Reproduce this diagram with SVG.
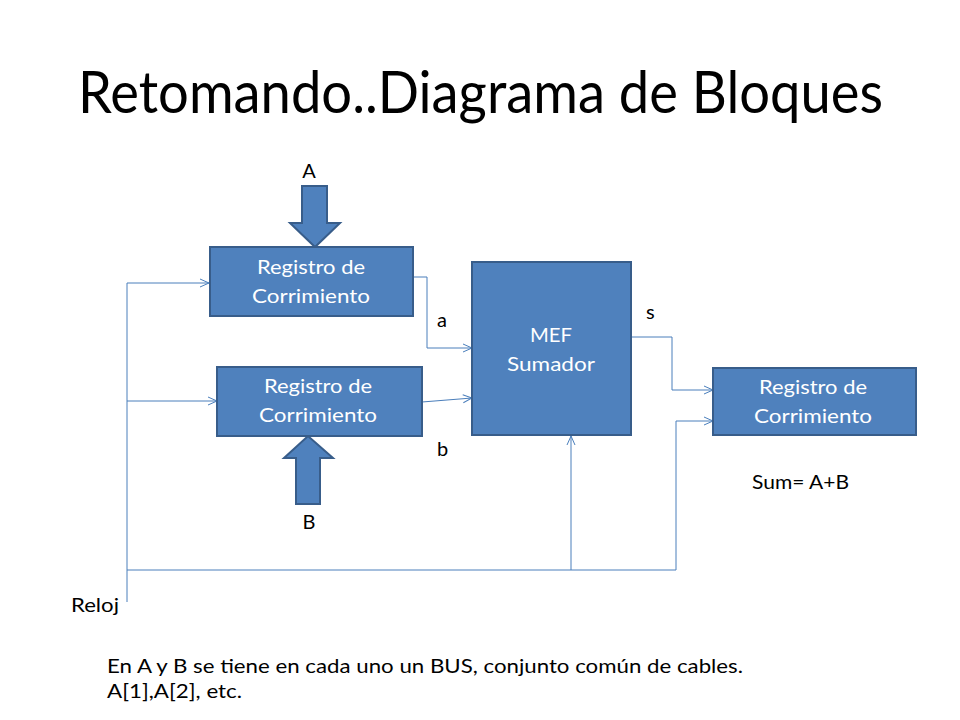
<svg xmlns="http://www.w3.org/2000/svg" width="960" height="720" viewBox="0 0 960 720">
<defs>
<style>
.box{fill:#4F81BD;stroke:#385D8A;stroke-width:2}
.bt{font-family:Lato,"Open Sans","Liberation Sans",sans-serif;font-size:20px;fill:#FFFFFF;text-anchor:middle}
.lb{font-family:Lato,"Open Sans","Liberation Sans",sans-serif;font-size:20px;fill:#000000}
.ln{fill:none;stroke:#4A7EBB;stroke-width:1}
.title{font-family:Lato,"Open Sans","Liberation Sans",sans-serif;font-size:58px;fill:#000000}
</style>
<marker id="arr" viewBox="0 0 10 10" refX="10" refY="5" markerWidth="10" markerHeight="10" markerUnits="userSpaceOnUse" orient="auto">
<path d="M1,1 L10,5 L1,9" fill="none" stroke="#4A7EBB" stroke-width="1"/>
</marker>
</defs>
<rect width="960" height="720" fill="#FFFFFF"/>
<text class="title" x="78" y="113" textLength="805" lengthAdjust="spacingAndGlyphs">Retomando..Diagrama de Bloques</text>

<g id="connectors">
<polyline class="ln" points="127,602 127,283 209,283" marker-end="url(#arr)"/>
<line class="ln" x1="127" y1="401" x2="217" y2="401" marker-end="url(#arr)"/>
<polyline class="ln" points="127,570 676,570 676,421 713,421" marker-end="url(#arr)"/>
<line class="ln" x1="571" y1="570" x2="571" y2="436" marker-end="url(#arr)"/>
<polyline class="ln" points="413,277 427,277 427,348 472,348" marker-end="url(#arr)"/>
<line class="ln" x1="422" y1="402" x2="472" y2="398" marker-end="url(#arr)"/>
<polyline class="ln" points="631,337 672,337 672,390 713,390" marker-end="url(#arr)"/>
</g>

<g id="arrowA">
<polygon class="box" points="302,186 327,186 327,223 340,223 315,247 290,223 302,223"/>
<text class="lb" x="309" y="178" text-anchor="middle">A</text>
</g>
<g id="arrowB">
<polygon class="box" points="296,504 320,504 320,458 333,458 308,436 284,458 296,458"/>
<text class="lb" x="309" y="529" text-anchor="middle">B</text>
</g>

<g id="regA">
<rect class="box" x="210" y="247" width="203" height="69"/>
<text class="bt" x="311" y="274" textLength="108" lengthAdjust="spacingAndGlyphs">Registro de</text>
<text class="bt" x="311" y="303" textLength="118" lengthAdjust="spacingAndGlyphs">Corrimiento</text>
</g>
<g id="regB">
<rect class="box" x="217" y="367" width="205" height="69"/>
<text class="bt" x="318" y="393" textLength="108" lengthAdjust="spacingAndGlyphs">Registro de</text>
<text class="bt" x="318" y="422" textLength="118" lengthAdjust="spacingAndGlyphs">Corrimiento</text>
</g>
<g id="mef">
<rect class="box" x="472" y="262" width="159" height="173"/>
<text class="bt" x="551" y="342" textLength="42" lengthAdjust="spacingAndGlyphs">MEF</text>
<text class="bt" x="551" y="371" textLength="88" lengthAdjust="spacingAndGlyphs">Sumador</text>
</g>
<g id="regS">
<rect class="box" x="713" y="368" width="203" height="67"/>
<text class="bt" x="813" y="394" textLength="108" lengthAdjust="spacingAndGlyphs">Registro de</text>
<text class="bt" x="813" y="423" textLength="118" lengthAdjust="spacingAndGlyphs">Corrimiento</text>
</g>

<g id="labels">
<text class="lb" x="437" y="327">a</text>
<text class="lb" x="646" y="319">s</text>
<text class="lb" x="437" y="456">b</text>
<text class="lb" x="752" y="489" textLength="97" lengthAdjust="spacingAndGlyphs">Sum= A+B</text>
<text class="lb" x="71" y="612" textLength="48" lengthAdjust="spacingAndGlyphs">Reloj</text>
<text class="lb" x="107" y="673" textLength="636" lengthAdjust="spacingAndGlyphs">En A y B se tiene en cada uno un BUS, conjunto común de cables.</text>
<text class="lb" x="107" y="698" textLength="135" lengthAdjust="spacingAndGlyphs">A[1],A[2], etc.</text>
</g>
</svg>
